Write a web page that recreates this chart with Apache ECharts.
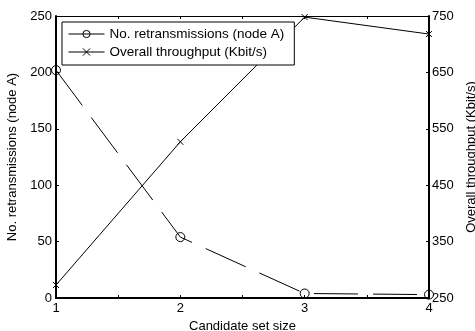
<!DOCTYPE html>
<html>
<head>
<meta charset="utf-8">
<script src="https://cdn.jsdelivr.net/npm/echarts@6/dist/echarts.min.js"></script>
<style>html,body{margin:0;padding:0;background:#fff;}#c{width:475px;height:331px;}</style>
</head>
<body>
<div id="c"></div>
<script>
var candidateSizes = [1, 2, 3, 4];
var retransmissions = [202, 54, 4, 3];
var throughput = [273, 527, 748, 718];
var leftTicks = [0, 50, 100, 150, 200, 250];
var rightTicks = [250, 350, 450, 550, 650, 750];

var FONT = '"Liberation Sans", Arial, sans-serif';
var chart = echarts.init(document.getElementById('c'), null, {renderer: 'canvas'});
var xCross = 'path://M0,0L10,10M10,0L0,10';
var hollow = 'rgba(0,0,0,0)';

chart.setOption({
  animation: false,
  backgroundColor: '#fff',
  grid: {left: 56, right: 46, top: 16, bottom: 33, containLabel: false, outerBoundsMode: 'none'},
  legend: {
    orient: 'vertical', left: 62, top: 22,
    padding: [5, 10, 6, 6], itemGap: 4, itemWidth: 36, itemHeight: 9,
    backgroundColor: '#fff', borderColor: '#000', borderWidth: 1,
    textStyle: {fontFamily: FONT, fontSize: 13.5, color: '#000', lineHeight: 13},
    data: [
      {name: 'No. retransmissions (node A)', lineStyle: {type: 'solid', width: 1, color: '#000'},
       itemStyle: {color: hollow, borderColor: '#000', borderWidth: 1}},
      {name: 'Overall throughput (Kbit/s)', lineStyle: {type: 'solid', width: 1, color: '#000'},
       itemStyle: {color: '#000', borderColor: '#000', borderWidth: 1}}
    ]
  },
  xAxis: [{
    type: 'value', min: 1, max: 4, interval: 0.5, position: 'bottom',
    name: 'Candidate set size', nameLocation: 'middle', nameGap: 20,
    nameTextStyle: {fontFamily: FONT, fontSize: 13, color: '#000'},
    axisLine: {lineStyle: {color: '#000', width: 2}},
    axisTick: {inside: true, length: 3, lineStyle: {color: '#000'}},
    axisLabel: {fontFamily: FONT, fontSize: 13, color: '#000', margin: 4,
      formatter: function (v) { return Number.isInteger(v) ? String(v) : ''; }},
    splitLine: {show: false}
  }, {
    type: 'value', min: 1, max: 4, interval: 0.5, position: 'top',
    axisLine: {lineStyle: {color: '#000', width: 1}},
    axisTick: {inside: true, length: 3, lineStyle: {color: '#000'}},
    axisLabel: {show: false}, splitLine: {show: false}
  }],
  yAxis: [{
    type: 'value', min: 0, max: 250, interval: 50, position: 'left',
    name: 'No. retransmissions (node A)', nameLocation: 'middle', nameGap: 36, nameRotate: 90,
    nameTextStyle: {fontFamily: FONT, fontSize: 13, color: '#000'},
    axisLine: {show: true, lineStyle: {color: '#000', width: 2}},
    axisTick: {inside: true, length: 3, lineStyle: {color: '#000'}},
    axisLabel: {fontFamily: FONT, fontSize: 13, color: '#000', margin: 4},
    splitLine: {show: false}
  }, {
    type: 'value', min: 250, max: 750, interval: 100, position: 'right',
    name: 'Overall throughput (Kbit/s)', nameLocation: 'middle', nameGap: 32, nameRotate: 90,
    nameTextStyle: {fontFamily: FONT, fontSize: 13, color: '#000'},
    axisLine: {show: true, lineStyle: {color: '#000', width: 2}},
    axisTick: {inside: true, length: 3, lineStyle: {color: '#000'}},
    axisLabel: {fontFamily: FONT, fontSize: 13, color: '#000', margin: 3},
    splitLine: {show: false}
  }],
  series: [{
    name: 'No. retransmissions (node A)', type: 'line',
    xAxisIndex: 0, yAxisIndex: 0,
    data: candidateSizes.map(function (x, i) { return [x, retransmissions[i]]; }),
    symbol: 'circle', symbolSize: 9, showSymbol: true,
    lineStyle: {color: '#000', width: 1, type: [44, 15]},
    itemStyle: {color: hollow, borderColor: '#000', borderWidth: 1},
    clip: false
  }, {
    name: 'Overall throughput (Kbit/s)', type: 'line',
    xAxisIndex: 0, yAxisIndex: 1,
    data: candidateSizes.map(function (x, i) { return [x, throughput[i]]; }),
    symbol: xCross, symbolSize: 6,
    lineStyle: {color: '#000', width: 1},
    itemStyle: {color: '#000', borderColor: '#000', borderWidth: 1},
    clip: false
  }]
});
</script>
</body>
</html>
